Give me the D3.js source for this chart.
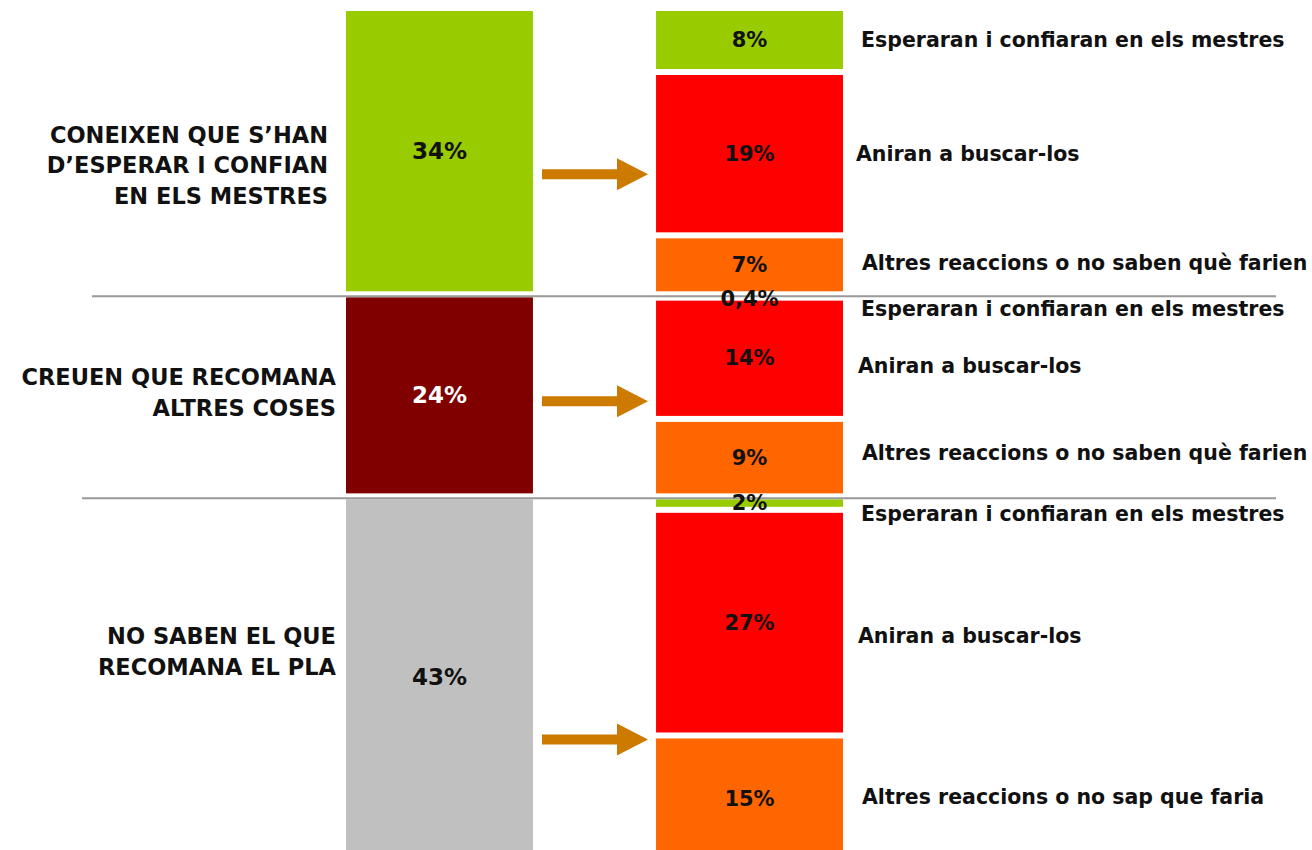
<!DOCTYPE html>
<html><head><meta charset="utf-8">
<script src="https://cdn.jsdelivr.net/npm/d3@7"></script>
<style>html,body{margin:0;padding:0;background:#fff;overflow:hidden}</style>
</head><body>
<svg id="c" width="1312" height="850"></svg>
<script>
// ---- data ----
const groupLines = [
  ["CONEIXEN QUE S’HAN", "D’ESPERAR I CONFIAN", "EN ELS MESTRES"],
  ["CREUEN QUE RECOMANA", "ALTRES COSES"],
  ["NO SABEN EL QUE", "RECOMANA EL PLA"]
];
const groupValues = [34, 24, 43];
const groupLabels = ["34%", "24%", "43%"];
const reactionNames = [
  ["Esperaran i confiaran en els mestres", "Aniran a buscar-los", "Altres reaccions o no saben què farien"],
  ["Esperaran i confiaran en els mestres", "Aniran a buscar-los", "Altres reaccions o no saben què farien"],
  ["Esperaran i confiaran en els mestres", "Aniran a buscar-los", "Altres reaccions o no sap que faria"]
];
const reactionValues = [[7.6, 19.4, 7.0], [0.4, 14.4, 9.2], [1.6, 26.8, 15.0]];
const reactionLabels = [["8%", "19%", "7%"], ["0,4%", "14%", "9%"], ["2%", "27%", "15%"]];

// ---- layout / style ----
const groupColors = ["#99cc00", "#800000", "#c0c0c0"];
const groupTextColors = ["#111", "#fff", "#111"];
const reactionColors = ["#99cc00", "#ff0000", "#ff6600"];
const gap = 6;
const groupLabelNudge = [14, -3, -26];
const groupLabelRight = [328, 336, 336];
const arrowNudge = [23, 6, 62];
const reactionTextNudge = [[0, 0, -2], [13, 8, -5], [11, 13, -2]];
const reactionTextDx = [[0, -5, 1], [0, -3, 1], [0, -3, 1]];
const sepX = [92, 82];
const FONT = "'DejaVu Sans', sans-serif";

const svg = d3.select("#c");
const y = d3.scaleLinear().domain([0, 100]).range([11, 853]);
const xL = d3.scaleBand().domain(["left", "right"]).range([346, 843]).paddingInner(0.397);

// left stack
let cum = 0;
const leftSegs = groupValues.map((v, i) => { const s = cum; cum += v; return {i, s, e: cum, v}; });
// right stack
cum = 0;
const rightSegs = [];
reactionValues.forEach((arr, g) => arr.forEach((v, j) => { const s = cum; cum += v; rightSegs.push({g, j, s, e: cum, v}); }));

const xLeft = xL("left"), bw = xL.bandwidth(), xRight = xL("right");

svg.append("g").selectAll("rect").data(leftSegs).join("rect")
  .attr("x", xLeft).attr("width", bw)
  .attr("y", d => y(d.s)).attr("height", d => Math.max(0, y(d.e) - y(d.s) - gap))
  .attr("fill", d => groupColors[d.i]);

svg.append("g").selectAll("rect").data(rightSegs).join("rect")
  .attr("x", xRight).attr("width", bw)
  .attr("y", d => y(d.s)).attr("height", d => Math.max(0, y(d.e) - y(d.s) - gap))
  .attr("fill", d => reactionColors[d.j]);

// separators
svg.append("g").selectAll("line").data(leftSegs.slice(0, 2)).join("line")
  .attr("x1", (d, i) => sepX[i]).attr("x2", 1276)
  .attr("y1", d => y(d.e) - 1).attr("y2", d => y(d.e) - 1)
  .attr("stroke", "#999").attr("stroke-width", 2);

// left bar labels
svg.append("g").selectAll("text").data(leftSegs).join("text")
  .attr("x", xLeft + bw / 2).attr("y", d => (y(d.s) + y(d.e) - gap) / 2)
  .attr("text-anchor", "middle").attr("dominant-baseline", "central")
  .attr("fill", d => groupTextColors[d.i]).attr("font-family", FONT).attr("font-weight", "bold").attr("font-size", 23)
  .text(d => groupLabels[d.i]);

// right bar labels
svg.append("g").selectAll("text").data(rightSegs).join("text")
  .attr("x", xRight + bw / 2).attr("y", d => (y(d.s) + y(d.e) - gap) / 2 + (d.v < 1 ? 3 : 0))
  .attr("text-anchor", "middle").attr("dominant-baseline", "central")
  .attr("fill", "#111").attr("font-family", FONT).attr("font-weight", "bold").attr("font-size", 21)
  .text(d => reactionLabels[d.g][d.j]);

// right category texts
svg.append("g").selectAll("text").data(rightSegs).join("text")
  .attr("x", d => 861 + reactionTextDx[d.g][d.j])
  .attr("y", d => (y(d.s) + y(d.e) - gap) / 2 + reactionTextNudge[d.g][d.j])
  .attr("dominant-baseline", "central")
  .attr("fill", "#111").attr("font-family", FONT).attr("font-weight", "bold").attr("font-size", 20.5)
  .text(d => reactionNames[d.g][d.j]);

// group labels
leftSegs.forEach(d => {
  const lines = groupLines[d.i];
  const cy = (y(d.s) + y(d.e) - gap) / 2 + groupLabelNudge[d.i];
  const lh = 30.5;
  const xr = groupLabelRight[d.i];
  svg.append("text")
    .attr("x", xr).attr("text-anchor", "end")
    .attr("fill", "#111").attr("font-family", FONT).attr("font-weight", "bold").attr("font-size", 22.5)
    .selectAll("tspan").data(lines).join("tspan")
    .attr("x", xr).attr("dominant-baseline", "central")
    .attr("y", (l, k) => cy + (k - (lines.length - 1) / 2) * lh)
    .text(l => l);
});

// arrows
const ax0 = 542, ax1 = 617, ax2 = 648;
leftSegs.forEach(d => {
  const cy = (y(d.s) + y(d.e) - gap) / 2 + arrowNudge[d.i];
  const p = d3.path();
  p.moveTo(ax0, cy - 5); p.lineTo(ax1, cy - 5); p.lineTo(ax1, cy - 16); p.lineTo(ax2, cy);
  p.lineTo(ax1, cy + 16); p.lineTo(ax1, cy + 5); p.lineTo(ax0, cy + 5); p.closePath();
  svg.append("path").attr("d", p.toString()).attr("fill", "#cc7a00");
});
</script>
</body></html>
